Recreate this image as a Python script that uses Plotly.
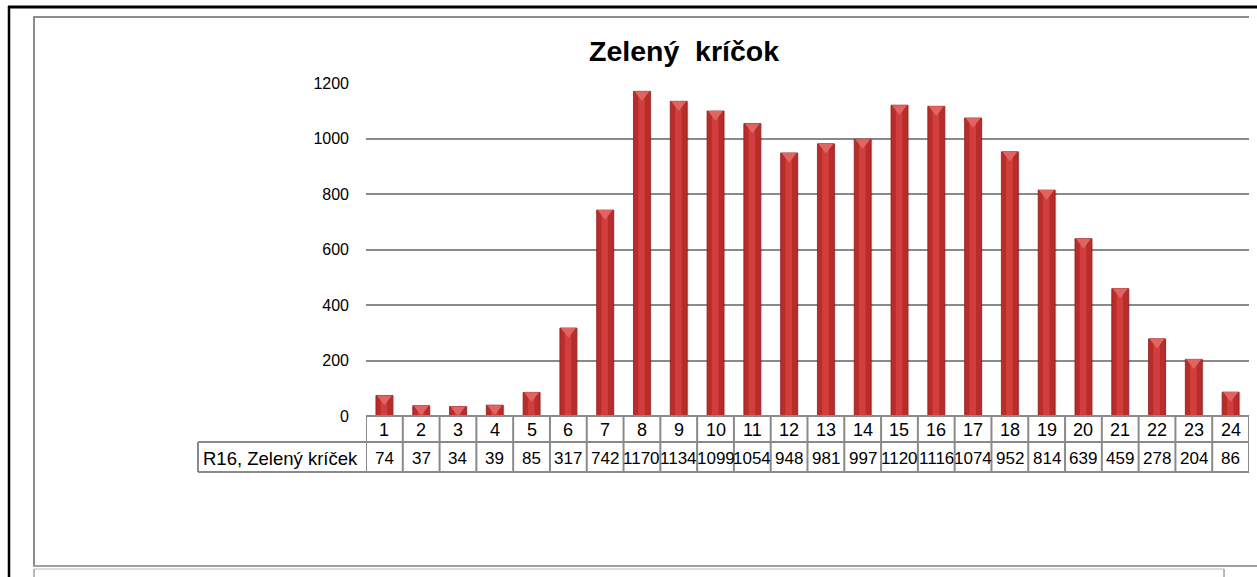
import plotly.graph_objects as go

W, H = 1257, 577

categories = list(range(1, 25))
values = [74, 37, 34, 39, 85, 317, 742, 1170, 1134, 1099, 1054, 948,
          981, 997, 1120, 1116, 1074, 952, 814, 639, 459, 278, 204, 86]
series_name = "R16, Zelený kríček"
title_text = "Zelený  kríčok"
y_ticks = [0, 200, 400, 600, 800, 1000, 1200]

def px(x):
    return x / W

def py(y):
    return 1 - y / H

FONT = "Liberation Sans, Arial, sans-serif"
GRID = "#8a8a8a"

X0, X1 = 366, 1249
Y_TOP, Y_ZERO = 83, 416
Y_RANGE = [0, 1200]
units_per_px = (Y_RANGE[1] - Y_RANGE[0]) / (Y_ZERO - Y_TOP)

fig = go.Figure()
# soft shadow
fig.add_trace(go.Bar(
    x=categories, y=values, width=0.46, offset=-0.19,
    marker=dict(color="rgba(0,0,0,0.10)", line=dict(width=0)),
    hoverinfo="skip", showlegend=False))
# main bars
fig.add_trace(go.Bar(
    x=categories, y=values, width=0.46, offset=-0.23,
    marker=dict(color="#B92C2A", line=dict(color="#8C1D1C", width=0.8)),
    name=series_name, showlegend=False))
# centre highlight
fig.add_trace(go.Bar(
    x=categories, y=values, width=0.18, offset=-0.10,
    marker=dict(color="rgba(228,78,76,0.55)", line=dict(width=0)),
    hoverinfo="skip", showlegend=False))
# bevelled top caps
fig.add_trace(go.Scatter(
    x=categories, y=[v - 3.2 * units_per_px for v in values],
    mode="markers",
    marker=dict(symbol="triangle-down", size=13, color="#E06462",
                line=dict(width=0)),
    hoverinfo="skip", showlegend=False, cliponaxis=False))

fig.update_layout(
    width=W, height=H,
    autosize=False,
    margin=dict(l=0, r=0, t=0, b=0, pad=0, autoexpand=False),
    paper_bgcolor="white", plot_bgcolor="white",
    barmode="overlay",
    showlegend=False,
    font=dict(family=FONT, color="black"),
    xaxis=dict(domain=[px(X0), px(X1)], range=[0.5, 24.5],
               showticklabels=False, showgrid=False, zeroline=False,
               showline=False, fixedrange=True),
    yaxis=dict(domain=[py(Y_ZERO), py(Y_TOP)], range=Y_RANGE,
               tickvals=y_ticks, ticktext=[str(t) for t in y_ticks],
               showgrid=True, gridcolor=GRID, gridwidth=1.6,
               zeroline=False, showline=False, ticks="",
               ticklabelstandoff=16,
               tickfont=dict(size=16, family=FONT, color="black"),
               fixedrange=True),
)

shapes = []
def line(x0, y0, x1, y1, color=GRID, width=2, xref="paper"):
    shapes.append(dict(type="line", xref=xref, yref="paper",
                       x0=x0, y0=y0, x1=x1, y1=y1,
                       line=dict(color=color, width=width)))

# outer black frame
line(px(8), py(7), px(W), py(7), color="black", width=3)
line(px(9), py(6), px(9), py(H), color="black", width=2.5)
# inner grey chart border
line(px(33), py(17), px(1249), py(17), color="#8c8c8c", width=2)
line(px(34), py(17), px(34), py(566), color="#8c8c8c", width=2)
line(px(33), py(566), px(1249), py(566), color="#a0a0a0", width=2)
line(px(34), py(569), px(1224), py(569), color="#d0d0d0", width=1.5)
line(px(34), py(569), px(34), py(H), color="#a0a0a0", width=1.5)
line(px(1224), py(569), px(1224), py(H), color="#a0a0a0", width=1.5)
line(px(1224), py(566), px(W), py(566), color="#a0a0a0", width=2)

# data table
ROW0, ROW1, ROW2 = 416, 442, 472
LABEL_X0 = 198
line(px(X0), py(ROW0), px(X1), py(ROW0))
line(px(LABEL_X0), py(ROW1), px(X1), py(ROW1))
line(px(LABEL_X0), py(ROW2), px(X1), py(ROW2))
line(px(LABEL_X0), py(ROW1), px(LABEL_X0), py(ROW2))
for c in range(len(categories) + 1):
    xb = categories[0] - 0.5 + c
    line(xb, py(ROW0), xb, py(ROW2), xref="x")

TABLE_FONT = dict(size=17, family=FONT, color="black")
annotations = []
for c, v in zip(categories, values):
    annotations.append(dict(x=c, xref="x", y=py((ROW0 + ROW1) / 2 + 0.5), yref="paper",
                            text=str(c), showarrow=False,
                            font=dict(size=18, family=FONT, color="black"),
                            xanchor="center", yanchor="middle"))
    annotations.append(dict(x=c, xref="x", y=py((ROW1 + ROW2) / 2 + 1.5), yref="paper",
                            text=str(v), showarrow=False, font=TABLE_FONT,
                            xanchor="center", yanchor="middle"))
annotations.append(dict(x=px((LABEL_X0 + X0) / 2 - 2), xref="paper",
                        y=py((ROW1 + ROW2) / 2 + 1.5), yref="paper",
                        text=series_name, showarrow=False,
                        font=dict(size=18.5, family=FONT, color="black"),
                        xanchor="center", yanchor="middle"))
annotations.append(dict(x=px(684), xref="paper", y=py(51), yref="paper",
                        text="<b>" + title_text.replace("  ", " &nbsp;") + "</b>",
                        showarrow=False,
                        font=dict(size=28.5, family=FONT, color="black"),
                        xanchor="center", yanchor="middle"))

fig.update_layout(shapes=shapes, annotations=annotations)
fig.write_html("out.html",
               config={"displayModeBar": False, "responsive": False},
               post_script="document.body.style.margin='0';"
                           "document.body.style.overflow='hidden';")
